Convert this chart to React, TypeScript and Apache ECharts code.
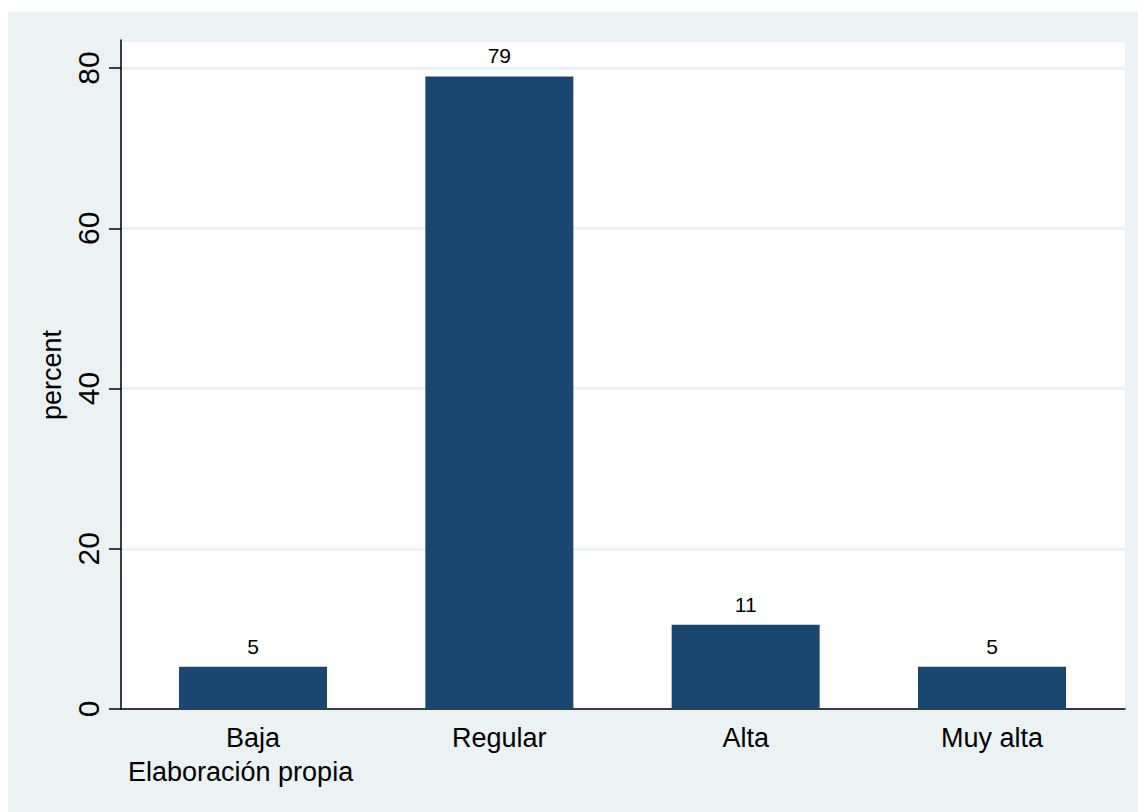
import React, { useEffect, useRef } from "react";
import * as echarts from "echarts";

const categories = ["Baja", "Regular", "Alta", "Muy alta"];
const percents = [5.26, 78.95, 10.53, 5.26];
const yTicks = [0, 20, 40, 60, 80];
const yTitle = "percent";
const noteText = "Elaboración propia";

const FONT = "'Liberation Sans', Arial, Helvetica, sans-serif";
const BG = "#EAF2F3";
const BAR = "#1A476F";

export default function App() {
  const ref = useRef<HTMLDivElement>(null);
  useEffect(() => {
    if (!ref.current) return;
    const chart = echarts.init(ref.current, undefined, { renderer: "svg" });
    const yMax = 83.5;
    chart.setOption({
      animation: false,
      backgroundColor: BG,
      textStyle: { fontFamily: FONT },
      grid: [
        { left: 113, right: 13, top: 28, bottom: 103, show: true, backgroundColor: "#ffffff", borderWidth: 0 },
        { left: 121.83, right: 22.83, top: 28, bottom: 103 },
      ],
      xAxis: [
        {
          type: "value",
          gridIndex: 0,
          min: 0,
          max: 1,
          axisLine: { show: true, lineStyle: { color: "#000", width: 1.5 } },
          axisTick: { show: false },
          axisLabel: { show: false },
          splitLine: { show: false },
        },
        {
          type: "category",
          gridIndex: 1,
          data: categories,
          axisLine: { show: false },
          axisTick: { show: false },
          axisLabel: { color: "#000", fontSize: 27, fontFamily: FONT, margin: 15 },
        },
      ],
      yAxis: [
        {
          type: "value",
          gridIndex: 0,
          min: 0,
          max: yMax,
          interval: 20,
          axisLine: { show: true, lineStyle: { color: "#000", width: 1.5 } },
          axisTick: { show: true, length: 12, lineStyle: { color: "#000", width: 1.5 } },
          axisLabel: {
            rotate: 90,
            margin: 18,
            color: "#000",
            fontSize: 30,
            fontFamily: FONT,
            showMaxLabel: false,
            formatter: (v: number) => (yTicks.includes(v) ? String(v) : ""),
          },
          splitLine: { show: true, lineStyle: { color: BG, width: 3 } },
        },
        {
          type: "value",
          gridIndex: 1,
          min: 0,
          max: yMax,
          show: false,
        },
      ],
      series: [
        {
          type: "bar",
          xAxisIndex: 1,
          yAxisIndex: 1,
          data: percents,
          barWidth: 148,
          itemStyle: { color: BAR },
          label: {
            show: true,
            position: "top",
            distance: 10,
            color: "#000",
            fontSize: 21,
            fontFamily: FONT,
            formatter: (p: any) => String(Math.round(p.value)),
          },
        },
      ],
      graphic: [
        {
          type: "text",
          x: 44,
          y: 363,
          rotation: Math.PI / 2,
          style: {
            text: yTitle,
            fill: "#000",
            font: `27px ${FONT}`,
            align: "center",
            verticalAlign: "middle",
          },
        },
        {
          type: "text",
          x: 120,
          y: 760,
          style: {
            text: noteText,
            fill: "#000",
            font: `27px ${FONT}`,
            align: "left",
            verticalAlign: "middle",
          },
        },
      ],
    });
    return () => chart.dispose();
  }, []);
  return (
    <div
      ref={ref}
      style={{ position: "absolute", left: 8, top: 12, width: 1130, height: 800 }}
    />
  );
}
